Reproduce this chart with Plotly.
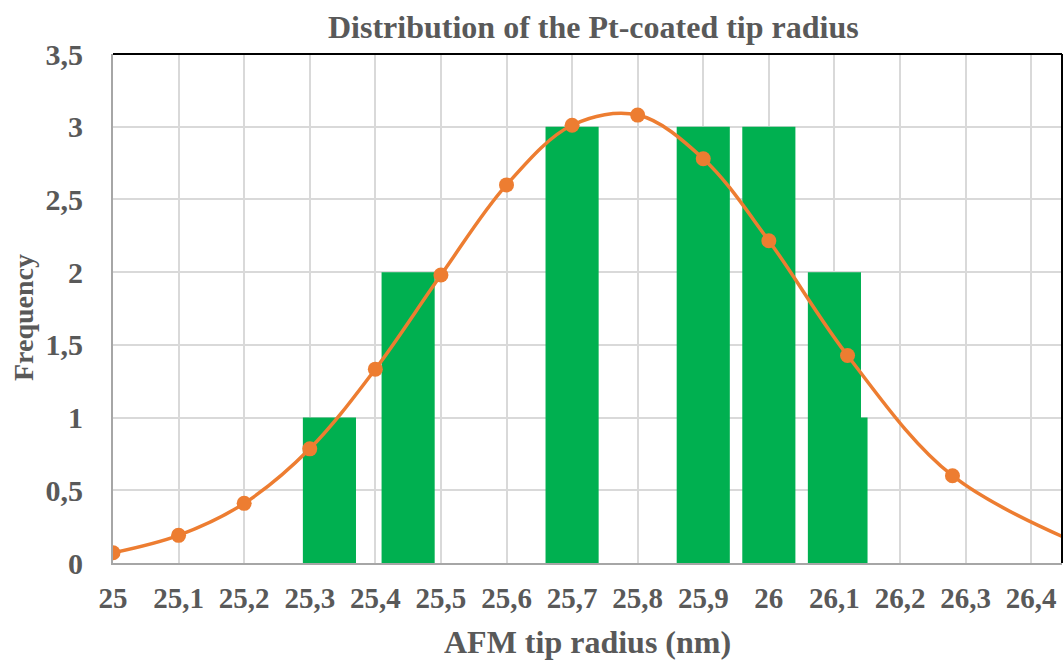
import plotly.graph_objects as go

# Histogram of measured tip radii (nm) and the fitted distribution curve
bar_centers = [25.33, 25.45, 25.70, 25.90, 26.00, 26.11, 26.10]
bar_counts = [1, 2, 3, 3, 3, 1, 2]

fit_x = [25.0, 25.1, 25.2, 25.3, 25.4, 25.5, 25.6, 25.7, 25.8, 25.9, 26.0, 26.12, 26.28, 26.5]
fit_y = [0.07, 0.19, 0.41, 0.785, 1.333, 1.98, 2.60, 3.01, 3.08, 2.78, 2.216, 1.427, 0.60, 0.08]

x_ticks = [25.0, 25.1, 25.2, 25.3, 25.4, 25.5, 25.6, 25.7, 25.8, 25.9, 26.0, 26.1, 26.2, 26.3, 26.4]

FONT = "Liberation Serif"
GREY = "#595959"
GREEN = "#00b050"
ORANGE = "#ed7d31"

fig = go.Figure()

fig.add_trace(go.Bar(
    x=bar_centers,
    y=bar_counts,
    width=[0.081] * len(bar_centers),
    marker=dict(color=GREEN, line=dict(width=0)),
    showlegend=False,
))

fig.add_trace(go.Scatter(
    x=fit_x,
    y=fit_y,
    mode="lines+markers",
    line=dict(color=ORANGE, width=3.5, shape="spline", smoothing=1.0),
    marker=dict(color=ORANGE, size=15),
    showlegend=False,
))

fig.update_layout(
    width=1064,
    height=661,
    margin=dict(l=113, r=2, t=54, b=98),
    paper_bgcolor="white",
    plot_bgcolor="white",
    separators=", ",
    barmode="overlay",
    font=dict(family=FONT, color=GREY, size=30, weight="bold"),
    xaxis=dict(
        range=[25.0, 26.447],
        tickvals=x_ticks,
        tickfont=dict(family=FONT, size=29, color=GREY, weight="bold"),
        showgrid=True,
        gridcolor="#d9d9d9",
        gridwidth=2,
        showline=True,
        linecolor="#a6a6a6",
        linewidth=2,
        zeroline=False,
        ticks="",
        ticklabelstandoff=8,
    ),
    yaxis=dict(
        range=[0, 3.5],
        dtick=0.5,
        tickfont=dict(family=FONT, size=30, color=GREY, weight="bold"),
        showgrid=True,
        gridcolor="#d9d9d9",
        gridwidth=2,
        showline=True,
        linecolor="#a6a6a6",
        linewidth=2,
        zeroline=False,
        ticks="",
        ticklabelstandoff=22,
    ),
    shapes=[
        dict(type="line", xref="paper", yref="paper", x0=0, x1=1, y0=1, y1=1,
             line=dict(color="black", width=2)),
        dict(type="line", xref="paper", yref="paper", x0=1, x1=1, y0=0, y1=1,
             line=dict(color="black", width=2)),
    ],
    annotations=[
        dict(text="Distribution of the Pt-coated tip radius", xref="paper", yref="paper",
             x=0.506, y=1.053, xanchor="center", yanchor="middle", showarrow=False,
             font=dict(family=FONT, size=32, color=GREY, weight="bold")),
        dict(text="AFM tip radius (nm)", xref="paper", yref="paper",
             x=0.5, y=-0.155, xanchor="center", yanchor="middle", showarrow=False,
             font=dict(family=FONT, size=32, color=GREY, weight="bold")),
        dict(text="Frequency", xref="paper", yref="paper", textangle=-90,
             x=-0.095, y=0.483, xanchor="center", yanchor="middle", showarrow=False,
             font=dict(family=FONT, size=28, color=GREY, weight="bold")),
    ],
)

fig.write_html("out.html")
